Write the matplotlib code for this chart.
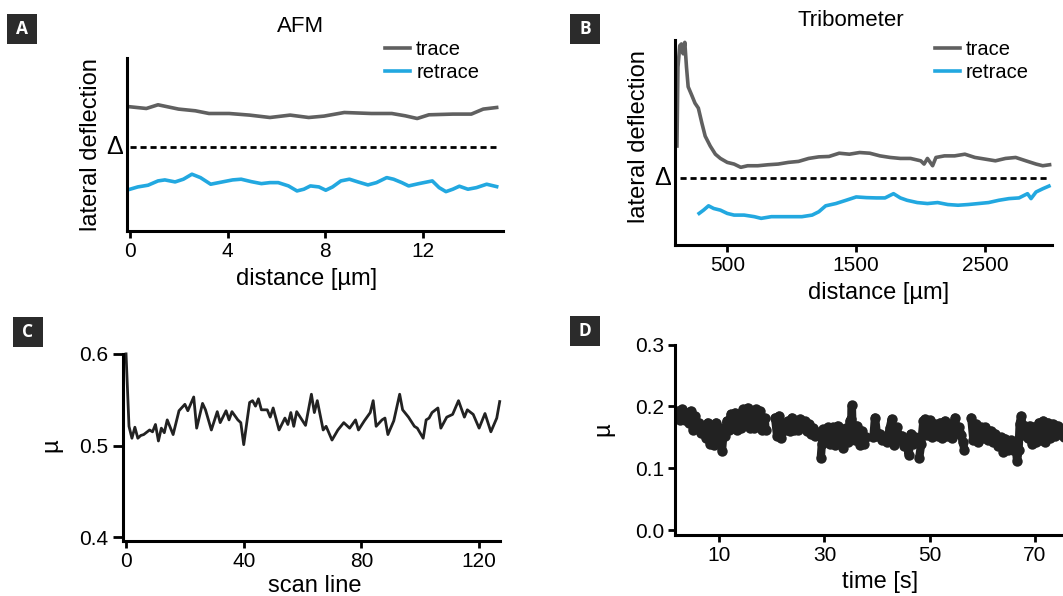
import numpy as np
import matplotlib
matplotlib.use("Agg")
import matplotlib.pyplot as plt
from matplotlib.patches import Rectangle
import matplotlib.transforms as mtransforms

plt.rcParams['font.family'] = ['Liberation Sans', 'DejaVu Sans']

# ---- data ----
# A: AFM, lateral deflection in arbitrary units
afm_trace_x = [0, 0.67, 1.15, 1.99, 2.68, 3.24, 4.07, 4.9, 5.74, 6.57, 7.33, 7.96, 8.79,
               9.9, 10.74, 11.29, 11.78, 12.26, 13.24, 14.0, 14.49, 15.04]
afm_trace_y = [1.24, 1.223, 1.26, 1.217, 1.20, 1.173, 1.173, 1.157, 1.133, 1.157, 1.133,
               1.147, 1.183, 1.173, 1.173, 1.15, 1.123, 1.16, 1.167, 1.167, 1.217, 1.233]
afm_retrace_x = [0, 0.32, 0.74, 1.15, 1.43, 1.85, 2.19, 2.54, 2.89, 3.31, 3.79, 4.21, 4.56,
                 4.97, 5.39, 5.74, 6.08, 6.5, 6.85, 7.13, 7.4, 7.75, 8.03, 8.31, 8.65, 9.0,
                 9.35, 9.76, 10.11, 10.53, 10.81, 11.15, 11.43, 11.85, 12.4, 12.68, 12.96,
                 13.24, 13.51, 13.86, 14.21, 14.63, 15.04]
afm_retrace_y = [0.417, 0.44, 0.457, 0.50, 0.51, 0.49, 0.517, 0.567, 0.533, 0.467, 0.49, 0.51,
                 0.517, 0.493, 0.473, 0.483, 0.483, 0.45, 0.40, 0.417, 0.45, 0.44, 0.407, 0.44,
                 0.50, 0.517, 0.49, 0.46, 0.483, 0.533, 0.517, 0.483, 0.45, 0.473, 0.50, 0.433,
                 0.393, 0.417, 0.447, 0.417, 0.433, 0.467, 0.443]
afm_delta = 0.843

# B: tribometer
tri_trace_x = [110, 118, 132, 145, 158, 171, 184, 197, 224, 250, 276, 303, 329, 368, 408, 447,
               500, 553, 605, 658, 737, 816, 895, 974, 1053, 1131, 1210, 1289, 1368, 1447,
               1526, 1605, 1684, 1763, 1842, 1921, 2000, 2026, 2052, 2092, 2118, 2184, 2263,
               2342, 2420, 2500, 2579, 2657, 2736, 2815, 2894, 2946, 2999]
tri_trace_y = [1.003, 1.803, 2.02, 2.037, 1.937, 2.053, 1.803, 1.603, 1.52, 1.437, 1.387, 1.237,
               1.103, 1.003, 0.92, 0.877, 0.837, 0.82, 0.787, 0.803, 0.803, 0.813, 0.82, 0.837,
               0.847, 0.877, 0.893, 0.897, 0.93, 0.92, 0.937, 0.93, 0.903, 0.887, 0.877, 0.877,
               0.853, 0.82, 0.877, 0.803, 0.887, 0.903, 0.903, 0.92, 0.887, 0.87, 0.853, 0.877,
               0.887, 0.853, 0.82, 0.803, 0.813]
tri_retrace_x = [282, 316, 355, 395, 447, 500, 553, 631, 710, 763, 842, 921, 1000, 1079, 1158,
                 1210, 1263, 1342, 1421, 1500, 1579, 1657, 1723, 1789, 1842, 1894, 1973, 2052,
                 2131, 2210, 2289, 2368, 2447, 2526, 2605, 2684, 2762, 2828, 2855, 2894, 2946,
                 2994]
tri_retrace_y = [0.32, 0.353, 0.397, 0.37, 0.353, 0.32, 0.303, 0.303, 0.287, 0.27, 0.287, 0.287,
                 0.287, 0.287, 0.303, 0.337, 0.397, 0.42, 0.453, 0.487, 0.48, 0.477, 0.477, 0.52,
                 0.477, 0.453, 0.43, 0.42, 0.43, 0.41, 0.403, 0.41, 0.42, 0.43, 0.453, 0.47,
                 0.477, 0.52, 0.47, 0.537, 0.57, 0.597]
tri_delta = 0.68

# C: AFM friction coefficient per scan line
scan_line = [0, 1, 2, 3, 4, 5, 6, 8, 9, 10, 11, 12, 13, 14, 16, 18, 20, 21, 23, 24, 26, 27, 29,
             31, 32, 34, 35, 36, 38, 39, 40, 42, 43, 44, 45, 46, 48, 49, 50, 52, 54, 55, 56, 57,
             58, 61, 63, 64, 65, 67, 68, 70, 72, 74, 76, 78, 79, 81, 83, 84, 85, 87, 88, 89, 91,
             93, 94, 96, 98, 99, 101, 102, 103, 104, 106, 107, 109, 111, 113, 115, 116, 118,
             120, 122, 124, 126, 127]
mu_afm = [0.600, 0.521, 0.508, 0.520, 0.508, 0.511, 0.512, 0.517, 0.515, 0.523, 0.505, 0.519,
          0.514, 0.528, 0.512, 0.538, 0.545, 0.538, 0.553, 0.519, 0.546, 0.539, 0.517, 0.537,
          0.525, 0.538, 0.528, 0.537, 0.528, 0.525, 0.501, 0.547, 0.549, 0.543, 0.551, 0.539,
          0.539, 0.531, 0.541, 0.517, 0.530, 0.523, 0.536, 0.521, 0.537, 0.522, 0.556, 0.536,
          0.549, 0.517, 0.521, 0.506, 0.517, 0.525, 0.519, 0.528, 0.517, 0.527, 0.536, 0.549,
          0.521, 0.528, 0.530, 0.512, 0.527, 0.556, 0.539, 0.531, 0.521, 0.519, 0.508, 0.528,
          0.530, 0.536, 0.541, 0.519, 0.531, 0.534, 0.549, 0.531, 0.539, 0.534, 0.519, 0.535,
          0.515, 0.530, 0.548]

# D: tribometer friction coefficient vs time (nan = gap between strokes)
nan = np.nan
time_s = [2.2, 2.6, 3.0, 3.4, 3.8, 4.2, 4.6, 5.0, 5.4, 5.8, 6.2, 6.6, 7.0, 7.4, 7.8, 8.2, 8.6,
          9.0, 9.4, 9.8, 10.2, 10.5, 10.8, 11.1, 11.4, 11.8, 12.2, 12.6, 13.0, 13.4, 13.8,
          14.2, 14.6, 15.0, 15.4, 15.8, 16.2, 16.6, 17.0, 17.4, 17.8, 18.2, 18.6, 18.8, 19.5,
          20.6, 21.0, 21.4, 21.8, 22.2, 22.6, 23.0, 23.4, 23.8, 24.2, 24.6, 25.0, 25.4, 25.8,
          26.2, 26.6, 27.0, 27.4, 27.8, 28.2, 28.5, 29.0,
          29.3, 29.5, 29.8, 30.2, 30.7, 31.1, 31.6, 32.0, 32.5, 32.9, 33.3, 33.6, 34.0, 34.5,
          34.8, 35.1, 35.2, 35.3, 35.8, 36.2, 36.7, 37.1, 37.5, 37.9, 38.5,
          39.3, 39.6, 40.0, 40.5, 40.9, 41.5, 41.9, 42.4, 42.8, 43.2, 43.7, 44.2, 44.7, 45.1,
          45.6, 46.0, 46.4, 46.8, 47.2, 47.7,
          48.0, 48.4, 48.8, 49.1, 49.5, 50.0, 50.5, 51.0, 51.5, 52.0, 52.4, 52.9, 53.3, 53.8,
          54.3, 54.8, 55.2, 55.6, 56.0, 56.3, 56.6, 57.3,
          57.9, 58.3, 58.8, 59.2, 59.7, 60.1, 60.6, 61.1, 61.6, 62.0, 62.5, 63.0, 63.5, 64.0,
          64.4, 64.9, 65.4, 65.9, 66.3, 66.6, 66.9, 67.1, 67.4, 67.8, 68.2, 68.6, 69.0, 69.4,
          69.8, 70.2, 70.7, 71.1, 71.6, 72.0, 72.5, 72.9, 73.4, 73.8, 74.3, 74.7, 75.1, 75.5,
          76.0]
mu_tribo = [0.193, 0.178, 0.196, 0.178, 0.19, 0.173, 0.193, 0.162, 0.185, 0.168, 0.174, 0.157,
            0.169, 0.149, 0.174, 0.14, 0.169, 0.138, 0.174, 0.152, 0.165, 0.128, 0.156, 0.152,
            0.177, 0.162, 0.188, 0.165, 0.19, 0.162, 0.188, 0.165, 0.196, 0.173, 0.198, 0.165,
            0.185, 0.165, 0.196, 0.176, 0.193, 0.162, 0.182, 0.162, nan,
            0.182, 0.152, 0.185, 0.149, 0.172, 0.162, 0.177, 0.16, 0.182, 0.162, 0.177, 0.162,
            0.18, 0.172, 0.176, 0.16, 0.172, 0.155, 0.165, 0.152, 0.158, nan,
            0.117, 0.14, 0.163, 0.145, 0.166, 0.14, 0.166, 0.138, 0.169, 0.148, 0.161, 0.133,
            0.165, 0.143, 0.177, 0.18, 0.2016, 0.17, 0.146, 0.169, 0.138, 0.161, 0.14, 0.15, nan,
            0.15, 0.182, 0.152, 0.156, 0.146, 0.15, 0.143, 0.165, 0.18, 0.138, 0.166, 0.146,
            0.153, 0.136, 0.145, 0.122, 0.156, 0.14, 0.15, nan,
            0.117, 0.14, 0.177, 0.18, 0.154, 0.178, 0.151, 0.172, 0.152, 0.174, 0.149, 0.177,
            0.152, 0.172, 0.149, 0.182, 0.157, 0.166, 0.154, 0.142, 0.13, nan,
            0.182, 0.146, 0.172, 0.143, 0.166, 0.149, 0.166, 0.146, 0.161, 0.143, 0.156, 0.136,
            0.15, 0.127, 0.148, 0.13, 0.145, 0.13, 0.142, 0.112, 0.13, 0.172, 0.185, 0.154,
            0.169, 0.149, 0.169, 0.14, 0.166, 0.143, 0.174, 0.146, 0.177, 0.143, 0.174, 0.149,
            0.172, 0.152, 0.169, 0.155, 0.16, 0.15, 0.165]

gray = '#606060'
blue = '#22a8e0'
dark = '#222222'

W, H = 1063, 596
fig = plt.figure(figsize=(W / 100, H / 100), dpi=100)


def px_axes(l, t, r, b):
    return fig.add_axes([l / W, 1 - b / H, (r - l) / W, (b - t) / H])


def style(ax):
    for s in ['top', 'right']:
        ax.spines[s].set_visible(False)
    for s in ['left', 'bottom']:
        ax.spines[s].set_linewidth(2.2)
    ax.tick_params(direction='out', length=5, width=2, labelsize=15, pad=3)


def delta(ax, y):
    tr = mtransforms.blended_transform_factory(ax.transAxes, ax.transData)
    ax.text(-0.01, y, 'Δ', transform=tr, ha='right', va='center', fontsize=18, clip_on=False)


def panel_label(x, y, letter):
    fig.add_artist(Rectangle((x / W, 1 - (y + 30) / H), 30 / W, 30 / H,
                             transform=fig.transFigure, color='#2b2b2b', lw=0))
    fig.text((x + 15) / W, 1 - (y + 15) / H, letter, color='white', fontsize=12.5,
             fontweight='bold', family='Open Sans', ha='center', va='center')


def legend(ax, x, y):
    ax.legend(frameon=False, loc='upper left', bbox_to_anchor=(x / W, 1 - y / H),
              bbox_transform=fig.transFigure, borderpad=0, borderaxespad=0, fontsize=14.5,
              handlelength=1.25, handletextpad=0.3, labelspacing=0.2)


# A
axA = px_axes(126.7, 58, 503, 231)
style(axA)
axA.plot(afm_trace_x, afm_trace_y, color=gray, lw=2.6, label='trace')
axA.plot(afm_retrace_x, afm_retrace_y, color=blue, lw=2.6, label='retrace')
axA.plot([0, 15], [afm_delta, afm_delta], color='black', lw=2, ls=(0, (2.2, 1.4)))
axA.set_xlim(-0.135, 15.3)
axA.set_ylim(0, 1.727)
axA.set_xticks([0, 4, 8, 12])
axA.set_yticks([])
delta(axA, afm_delta)
legend(axA, 385, 40)
fig.text(301 / W, 1 - 27 / H, 'AFM', ha='center', va='center', fontsize=16)
fig.text(90.6 / W, 1 - 144.5 / H, 'lateral deflection', rotation=90, ha='center',
         va='center', fontsize=17)
fig.text(307 / W, 1 - 279 / H, 'distance [µm]', ha='center', va='center', fontsize=17)

# B
axB = px_axes(675, 40, 1052.3, 245)
style(axB)
axB.plot(tri_trace_x, tri_trace_y, color=gray, lw=2.6, label='trace')
axB.plot(tri_retrace_x, tri_retrace_y, color=blue, lw=2.6, label='retrace')
axB.plot([130, 3000], [tri_delta, tri_delta], color='black', lw=2, ls=(0, (2.2, 1.4)))
axB.set_xlim(95, 3020)
axB.set_ylim(0, 2.077)
axB.set_xticks([500, 1500, 2500])
axB.set_yticks([])
delta(axB, tri_delta)
legend(axB, 934.5, 40)
fig.text(851 / W, 1 - 21 / H, 'Tribometer', ha='center', va='center', fontsize=16)
fig.text(638.8 / W, 1 - 136.8 / H, 'lateral deflection', rotation=90, ha='center',
         va='center', fontsize=17)
fig.text(878.3 / W, 1 - 293.3 / H, 'distance [µm]', ha='center', va='center', fontsize=17)

# C
axC = px_axes(123.4, 353.9, 499.7, 540.9)
style(axC)
axC.plot(scan_line, mu_afm, color=dark, lw=2, clip_on=False)
axC.set_xlim(-0.9, 127)
axC.set_ylim(0.396, 0.6)
axC.set_xticks([0, 40, 80, 120])
axC.set_yticks([0.4, 0.5, 0.6])
axC.set_yticklabels(['0.4', '0.5', '0.6'])
axC.tick_params(axis='y', length=7, pad=4)
fig.text(51.4 / W, 1 - 445 / H, 'µ', rotation=90, ha='center', va='center', fontsize=17)
fig.text(314.4 / W, 1 - 585.5 / H, 'scan line', ha='center', va='center', fontsize=17)

# D
axD = px_axes(675, 344.7, 1063, 535)
style(axD)
axD.plot(time_s, mu_tribo, color=dark, lw=6, marker='o', ms=7.5, mew=0,
         solid_capstyle='round', solid_joinstyle='round')
axD.set_xlim(1.58, 75.34)
axD.set_ylim(-0.008, 0.3)
axD.set_xticks([10, 30, 50, 70])
axD.set_yticks([0.0, 0.1, 0.2, 0.3])
axD.set_yticklabels(['0.0', '0.1', '0.2', '0.3'])
fig.text(603 / W, 1 - 429 / H, 'µ', rotation=90, ha='center', va='center', fontsize=17)
fig.text(880 / W, 1 - 581.7 / H, 'time [s]', ha='center', va='center', fontsize=17)

panel_label(6.8, 13.5, 'A')
panel_label(570, 13.5, 'B')
panel_label(12.5, 316.8, 'C')
panel_label(570, 315.8, 'D')

fig.savefig('out.png', dpi=100)
